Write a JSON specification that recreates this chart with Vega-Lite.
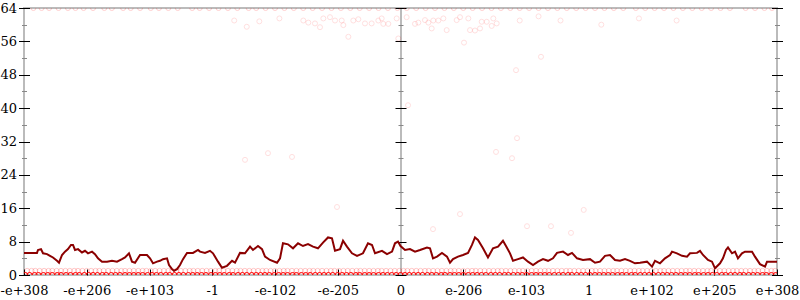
{
  "$schema": "https://vega.github.io/schema/vega-lite/v6.json",
  "autosize": "none",
  "width": 753,
  "height": 267,
  "padding": {"left": 24, "top": 8, "right": 23, "bottom": 25},
  "config": {
    "font": "DejaVu Serif",
    "view": {"stroke": "#bbb", "strokeWidth": 2},
    "axis": {"labelFont": "DejaVu Serif", "labelFontSize": 13, "labelColor": "black", "grid": false, "zindex": 1}
  },
  "datasets": {
    "avg": [
      {"x":-6.0,"y":5.3},{"x":-5.793,"y":5.3},{"x":-5.777,"y":6.0},{"x":-5.729,"y":6.2},{"x":-5.697,"y":5.2},{"x":-5.633,"y":5.0},{"x":-5.586,"y":4.6},{"x":-5.538,"y":4.2},{"x":-5.474,"y":3.4},{"x":-5.442,"y":2.95},{"x":-5.394,"y":4.8},{"x":-5.347,"y":5.6},{"x":-5.299,"y":6.2},{"x":-5.251,"y":7.2},{"x":-5.219,"y":7.2},{"x":-5.187,"y":6.0},{"x":-5.139,"y":6.2},{"x":-5.076,"y":5.4},{"x":-5.028,"y":5.8},{"x":-4.98,"y":5.2},{"x":-4.916,"y":5.6},{"x":-4.869,"y":5.0},{"x":-4.821,"y":4.0},{"x":-4.757,"y":3.2},{"x":-4.677,"y":3.2},{"x":-4.598,"y":3.4},{"x":-4.518,"y":3.2},{"x":-4.438,"y":3.8},{"x":-4.39,"y":4.2},{"x":-4.327,"y":5.2},{"x":-4.279,"y":3.2},{"x":-4.231,"y":2.95},{"x":-4.151,"y":4.8},{"x":-4.04,"y":4.8},{"x":-3.992,"y":4.0},{"x":-3.944,"y":2.8},{"x":-3.88,"y":3.2},{"x":-3.833,"y":3.4},{"x":-3.785,"y":3.8},{"x":-3.721,"y":4.0},{"x":-3.689,"y":2.4},{"x":-3.641,"y":1.4},{"x":-3.61,"y":1.0},{"x":-3.562,"y":1.4},{"x":-3.514,"y":2.4},{"x":-3.466,"y":3.8},{"x":-3.402,"y":5.3},{"x":-3.307,"y":5.3},{"x":-3.227,"y":6.0},{"x":-3.195,"y":5.6},{"x":-3.116,"y":5.3},{"x":-3.036,"y":5.8},{"x":-2.988,"y":5.2},{"x":-2.908,"y":3.2},{"x":-2.845,"y":1.75},{"x":-2.765,"y":2.2},{"x":-2.685,"y":3.4},{"x":-2.637,"y":2.95},{"x":-2.558,"y":5.3},{"x":-2.478,"y":5.2},{"x":-2.398,"y":6.8},{"x":-2.351,"y":6.0},{"x":-2.271,"y":6.95},{"x":-2.207,"y":6.2},{"x":-2.159,"y":4.4},{"x":-2.08,"y":3.6},{"x":-1.968,"y":2.95},{"x":-1.92,"y":4.0},{"x":-1.873,"y":7.6},{"x":-1.793,"y":7.35},{"x":-1.713,"y":6.4},{"x":-1.633,"y":7.6},{"x":-1.554,"y":6.95},{"x":-1.474,"y":7.4},{"x":-1.394,"y":6.8},{"x":-1.315,"y":6.4},{"x":-1.235,"y":7.75},{"x":-1.155,"y":9.0},{"x":-1.092,"y":8.8},{"x":-1.044,"y":5.8},{"x":-0.964,"y":6.2},{"x":-0.916,"y":8.2},{"x":-0.853,"y":6.8},{"x":-0.773,"y":5.2},{"x":-0.693,"y":4.6},{"x":-0.598,"y":5.2},{"x":-0.518,"y":7.6},{"x":-0.454,"y":7.2},{"x":-0.406,"y":5.2},{"x":-0.295,"y":5.8},{"x":-0.215,"y":5.0},{"x":-0.135,"y":5.6},{"x":-0.088,"y":7.6},{"x":-0.04,"y":8.0},{"x":0.0,"y":6.95},{"x":0.072,"y":6.0},{"x":0.151,"y":6.2},{"x":0.231,"y":5.6},{"x":0.311,"y":6.0},{"x":0.422,"y":6.6},{"x":0.47,"y":6.4},{"x":0.518,"y":4.0},{"x":0.582,"y":4.4},{"x":0.661,"y":5.3},{"x":0.741,"y":4.4},{"x":0.789,"y":2.95},{"x":0.837,"y":3.8},{"x":0.916,"y":4.4},{"x":0.996,"y":4.8},{"x":1.076,"y":5.3},{"x":1.139,"y":7.2},{"x":1.187,"y":9.0},{"x":1.235,"y":8.4},{"x":1.315,"y":6.4},{"x":1.394,"y":4.2},{"x":1.474,"y":6.4},{"x":1.554,"y":6.8},{"x":1.633,"y":8.2},{"x":1.681,"y":6.95},{"x":1.745,"y":5.2},{"x":1.793,"y":3.4},{"x":1.873,"y":3.8},{"x":1.952,"y":4.2},{"x":2.032,"y":3.2},{"x":2.112,"y":2.4},{"x":2.191,"y":3.2},{"x":2.271,"y":3.8},{"x":2.351,"y":3.4},{"x":2.43,"y":4.0},{"x":2.494,"y":5.3},{"x":2.59,"y":5.6},{"x":2.669,"y":4.8},{"x":2.733,"y":5.3},{"x":2.813,"y":4.0},{"x":2.908,"y":3.6},{"x":3.02,"y":3.8},{"x":3.1,"y":2.95},{"x":3.179,"y":3.2},{"x":3.259,"y":4.6},{"x":3.339,"y":4.8},{"x":3.418,"y":3.6},{"x":3.498,"y":3.4},{"x":3.578,"y":3.8},{"x":3.657,"y":3.4},{"x":3.737,"y":2.8},{"x":3.817,"y":2.95},{"x":3.928,"y":3.2},{"x":4.008,"y":2.0},{"x":4.056,"y":3.4},{"x":4.135,"y":2.8},{"x":4.215,"y":4.0},{"x":4.295,"y":4.8},{"x":4.327,"y":5.6},{"x":4.406,"y":5.2},{"x":4.486,"y":4.6},{"x":4.566,"y":4.4},{"x":4.614,"y":5.2},{"x":4.725,"y":5.3},{"x":4.773,"y":5.8},{"x":4.821,"y":4.8},{"x":4.9,"y":3.6},{"x":4.964,"y":3.2},{"x":5.012,"y":1.6},{"x":5.092,"y":2.8},{"x":5.139,"y":4.0},{"x":5.187,"y":6.0},{"x":5.219,"y":6.6},{"x":5.283,"y":5.2},{"x":5.331,"y":5.6},{"x":5.378,"y":4.0},{"x":5.442,"y":5.2},{"x":5.49,"y":5.6},{"x":5.602,"y":5.6},{"x":5.649,"y":4.4},{"x":5.729,"y":2.6},{"x":5.809,"y":2.0},{"x":5.841,"y":3.2},{"x":6.0,"y":3.2}
    ],
    "pts": [
      {"x":-5.98,"y":0,"n":40},{"x":-5.91,"y":0,"n":40},{"x":-5.83,"y":0,"n":40},{"x":-5.77,"y":0,"n":40},{"x":-5.69,"y":0,"n":40},{"x":-5.62,"y":0,"n":40},{"x":-5.55,"y":0,"n":40},{"x":-5.47,"y":0,"n":40},{"x":-5.41,"y":0,"n":40},{"x":-5.33,"y":0,"n":40},{"x":-5.26,"y":0,"n":40},{"x":-5.18,"y":0,"n":40},{"x":-5.12,"y":0,"n":40},{"x":-5.04,"y":0,"n":40},{"x":-4.97,"y":0,"n":40},{"x":-4.9,"y":0,"n":40},{"x":-4.83,"y":0,"n":40},{"x":-4.75,"y":0,"n":40},{"x":-4.69,"y":0,"n":40},{"x":-4.61,"y":0,"n":40},{"x":-4.54,"y":0,"n":40},{"x":-4.47,"y":0,"n":40},{"x":-4.39,"y":0,"n":40},{"x":-4.32,"y":0,"n":40},{"x":-4.25,"y":0,"n":40},{"x":-4.18,"y":0,"n":40},{"x":-4.11,"y":0,"n":40},{"x":-4.03,"y":0,"n":40},{"x":-3.96,"y":0,"n":40},{"x":-3.89,"y":0,"n":40},{"x":-3.82,"y":0,"n":40},{"x":-3.74,"y":0,"n":40},{"x":-3.68,"y":0,"n":40},{"x":-3.6,"y":0,"n":40},{"x":-3.53,"y":0,"n":40},{"x":-3.46,"y":0,"n":40},{"x":-3.38,"y":0,"n":40},{"x":-3.31,"y":0,"n":40},{"x":-3.24,"y":0,"n":40},{"x":-3.17,"y":0,"n":40},{"x":-3.1,"y":0,"n":40},{"x":-3.02,"y":0,"n":40},{"x":-2.95,"y":0,"n":40},{"x":-2.88,"y":0,"n":40},{"x":-2.81,"y":0,"n":40},{"x":-2.73,"y":0,"n":40},{"x":-2.67,"y":0,"n":40},{"x":-2.59,"y":0,"n":40},{"x":-2.52,"y":0,"n":40},{"x":-2.45,"y":0,"n":40},{"x":-2.37,"y":0,"n":40},{"x":-2.3,"y":0,"n":40},{"x":-2.23,"y":0,"n":40},{"x":-2.16,"y":0,"n":40},{"x":-2.09,"y":0,"n":40},{"x":-2.01,"y":0,"n":40},{"x":-1.94,"y":0,"n":40},{"x":-1.87,"y":0,"n":40},{"x":-1.8,"y":0,"n":40},{"x":-1.72,"y":0,"n":40},{"x":-1.66,"y":0,"n":40},{"x":-1.58,"y":0,"n":40},{"x":-1.51,"y":0,"n":40},{"x":-1.44,"y":0,"n":40},{"x":-1.36,"y":0,"n":40},{"x":-1.29,"y":0,"n":40},{"x":-1.22,"y":0,"n":40},{"x":-1.15,"y":0,"n":40},{"x":-1.08,"y":0,"n":40},{"x":-1.0,"y":0,"n":40},{"x":-0.93,"y":0,"n":40},{"x":-0.86,"y":0,"n":40},{"x":-0.79,"y":0,"n":40},{"x":-0.71,"y":0,"n":40},{"x":-0.65,"y":0,"n":40},{"x":-0.57,"y":0,"n":40},{"x":-0.5,"y":0,"n":40},{"x":-0.43,"y":0,"n":40},{"x":-0.35,"y":0,"n":40},{"x":-0.28,"y":0,"n":40},{"x":-0.21,"y":0,"n":40},{"x":-0.14,"y":0,"n":40},{"x":-0.07,"y":0,"n":40},{"x":0.0,"y":0,"n":40},{"x":0.07,"y":0,"n":40},{"x":0.14,"y":0,"n":40},{"x":0.21,"y":0,"n":40},{"x":0.28,"y":0,"n":40},{"x":0.35,"y":0,"n":40},{"x":0.43,"y":0,"n":40},{"x":0.5,"y":0,"n":40},{"x":0.57,"y":0,"n":40},{"x":0.65,"y":0,"n":40},{"x":0.71,"y":0,"n":40},{"x":0.79,"y":0,"n":40},{"x":0.86,"y":0,"n":40},{"x":0.93,"y":0,"n":40},{"x":1.0,"y":0,"n":40},{"x":1.08,"y":0,"n":40},{"x":1.15,"y":0,"n":40},{"x":1.22,"y":0,"n":40},{"x":1.29,"y":0,"n":40},{"x":1.36,"y":0,"n":40},{"x":1.44,"y":0,"n":40},{"x":1.51,"y":0,"n":40},{"x":1.58,"y":0,"n":40},{"x":1.66,"y":0,"n":40},{"x":1.72,"y":0,"n":40},{"x":1.8,"y":0,"n":40},{"x":1.87,"y":0,"n":40},{"x":1.94,"y":0,"n":40},{"x":2.01,"y":0,"n":40},{"x":2.09,"y":0,"n":40},{"x":2.16,"y":0,"n":40},{"x":2.23,"y":0,"n":40},{"x":2.3,"y":0,"n":40},{"x":2.37,"y":0,"n":40},{"x":2.45,"y":0,"n":40},{"x":2.52,"y":0,"n":40},{"x":2.59,"y":0,"n":40},{"x":2.67,"y":0,"n":40},{"x":2.73,"y":0,"n":40},{"x":2.81,"y":0,"n":40},{"x":2.88,"y":0,"n":40},{"x":2.95,"y":0,"n":40},{"x":3.02,"y":0,"n":40},{"x":3.1,"y":0,"n":40},{"x":3.17,"y":0,"n":40},{"x":3.24,"y":0,"n":40},{"x":3.31,"y":0,"n":40},{"x":3.38,"y":0,"n":40},{"x":3.46,"y":0,"n":40},{"x":3.53,"y":0,"n":40},{"x":3.6,"y":0,"n":40},{"x":3.68,"y":0,"n":40},{"x":3.74,"y":0,"n":40},{"x":3.82,"y":0,"n":40},{"x":3.89,"y":0,"n":40},{"x":3.96,"y":0,"n":40},{"x":4.03,"y":0,"n":40},{"x":4.11,"y":0,"n":40},{"x":4.18,"y":0,"n":40},{"x":4.25,"y":0,"n":40},{"x":4.32,"y":0,"n":40},{"x":4.39,"y":0,"n":40},{"x":4.47,"y":0,"n":40},{"x":4.54,"y":0,"n":40},{"x":4.61,"y":0,"n":40},{"x":4.69,"y":0,"n":40},{"x":4.75,"y":0,"n":40},{"x":4.83,"y":0,"n":40},{"x":4.9,"y":0,"n":40},{"x":4.97,"y":0,"n":40},{"x":5.04,"y":0,"n":40},{"x":5.12,"y":0,"n":40},{"x":5.18,"y":0,"n":40},{"x":5.26,"y":0,"n":40},{"x":5.33,"y":0,"n":40},{"x":5.41,"y":0,"n":40},{"x":5.47,"y":0,"n":40},{"x":5.55,"y":0,"n":40},{"x":5.62,"y":0,"n":40},{"x":5.69,"y":0,"n":40},{"x":5.77,"y":0,"n":40},{"x":5.83,"y":0,"n":40},{"x":5.91,"y":0,"n":40},{"x":5.98,"y":0,"n":40},
      {"x":-5.95,"y":1,"n":5},{"x":-5.88,"y":1,"n":5},{"x":-5.82,"y":1,"n":5},{"x":-5.75,"y":1,"n":5},{"x":-5.68,"y":1,"n":5},{"x":-5.61,"y":1,"n":5},{"x":-5.55,"y":1,"n":5},{"x":-5.48,"y":1,"n":5},{"x":-5.41,"y":1,"n":5},{"x":-5.34,"y":1,"n":5},{"x":-5.27,"y":1,"n":5},{"x":-5.2,"y":1,"n":5},{"x":-5.14,"y":1,"n":5},{"x":-5.07,"y":1,"n":5},{"x":-5.0,"y":1,"n":5},{"x":-4.93,"y":1,"n":5},{"x":-4.86,"y":1,"n":5},{"x":-4.8,"y":1,"n":5},{"x":-4.73,"y":1,"n":5},{"x":-4.66,"y":1,"n":5},{"x":-4.59,"y":1,"n":5},{"x":-4.52,"y":1,"n":5},{"x":-4.45,"y":1,"n":5},{"x":-4.39,"y":1,"n":5},{"x":-4.32,"y":1,"n":5},{"x":-4.25,"y":1,"n":5},{"x":-4.18,"y":1,"n":5},{"x":-4.11,"y":1,"n":5},{"x":-4.05,"y":1,"n":5},{"x":-3.98,"y":1,"n":5},{"x":-3.91,"y":1,"n":5},{"x":-3.84,"y":1,"n":5},{"x":-3.77,"y":1,"n":5},{"x":-3.7,"y":1,"n":5},{"x":-3.64,"y":1,"n":5},{"x":-3.57,"y":1,"n":5},{"x":-3.5,"y":1,"n":5},{"x":-3.43,"y":1,"n":5},{"x":-3.36,"y":1,"n":5},{"x":-3.3,"y":1,"n":5},{"x":-3.23,"y":1,"n":5},{"x":-3.16,"y":1,"n":5},{"x":-3.09,"y":1,"n":5},{"x":-3.02,"y":1,"n":5},{"x":-2.95,"y":1,"n":5},{"x":-2.89,"y":1,"n":5},{"x":-2.82,"y":1,"n":5},{"x":-2.75,"y":1,"n":5},{"x":-2.68,"y":1,"n":5},{"x":-2.61,"y":1,"n":5},{"x":-2.55,"y":1,"n":5},{"x":-2.48,"y":1,"n":5},{"x":-2.41,"y":1,"n":5},{"x":-2.34,"y":1,"n":5},{"x":-2.27,"y":1,"n":5},{"x":-2.2,"y":1,"n":5},{"x":-2.14,"y":1,"n":5},{"x":-2.07,"y":1,"n":5},{"x":-2.0,"y":1,"n":5},{"x":-1.93,"y":1,"n":5},{"x":-1.86,"y":1,"n":5},{"x":-1.8,"y":1,"n":5},{"x":-1.73,"y":1,"n":5},{"x":-1.66,"y":1,"n":5},{"x":-1.59,"y":1,"n":5},{"x":-1.52,"y":1,"n":5},{"x":-1.45,"y":1,"n":5},{"x":-1.39,"y":1,"n":5},{"x":-1.32,"y":1,"n":5},{"x":-1.25,"y":1,"n":5},{"x":-1.18,"y":1,"n":5},{"x":-1.11,"y":1,"n":5},{"x":-1.05,"y":1,"n":5},{"x":-0.98,"y":1,"n":5},{"x":-0.91,"y":1,"n":5},{"x":-0.84,"y":1,"n":5},{"x":-0.77,"y":1,"n":5},{"x":-0.7,"y":1,"n":5},{"x":-0.64,"y":1,"n":5},{"x":-0.57,"y":1,"n":5},{"x":-0.5,"y":1,"n":5},{"x":-0.43,"y":1,"n":5},{"x":-0.36,"y":1,"n":5},{"x":-0.3,"y":1,"n":5},{"x":-0.23,"y":1,"n":5},{"x":-0.16,"y":1,"n":5},{"x":-0.09,"y":1,"n":5},{"x":-0.02,"y":1,"n":5},{"x":0.05,"y":1,"n":5},{"x":0.11,"y":1,"n":5},{"x":0.18,"y":1,"n":5},{"x":0.25,"y":1,"n":5},{"x":0.32,"y":1,"n":5},{"x":0.39,"y":1,"n":5},{"x":0.45,"y":1,"n":5},{"x":0.52,"y":1,"n":5},{"x":0.59,"y":1,"n":5},{"x":0.66,"y":1,"n":5},{"x":0.73,"y":1,"n":5},{"x":0.8,"y":1,"n":5},{"x":0.86,"y":1,"n":5},{"x":0.93,"y":1,"n":5},{"x":1.0,"y":1,"n":5},{"x":1.07,"y":1,"n":5},{"x":1.14,"y":1,"n":5},{"x":1.2,"y":1,"n":5},{"x":1.27,"y":1,"n":5},{"x":1.34,"y":1,"n":5},{"x":1.41,"y":1,"n":5},{"x":1.48,"y":1,"n":5},{"x":1.55,"y":1,"n":5},{"x":1.61,"y":1,"n":5},{"x":1.68,"y":1,"n":5},{"x":1.75,"y":1,"n":5},{"x":1.82,"y":1,"n":5},{"x":1.89,"y":1,"n":5},{"x":1.95,"y":1,"n":5},{"x":2.02,"y":1,"n":5},{"x":2.09,"y":1,"n":5},{"x":2.16,"y":1,"n":5},{"x":2.23,"y":1,"n":5},{"x":2.3,"y":1,"n":5},{"x":2.36,"y":1,"n":5},{"x":2.43,"y":1,"n":5},{"x":2.5,"y":1,"n":5},{"x":2.57,"y":1,"n":5},{"x":2.64,"y":1,"n":5},{"x":2.7,"y":1,"n":5},{"x":2.77,"y":1,"n":5},{"x":2.84,"y":1,"n":5},{"x":2.91,"y":1,"n":5},{"x":2.98,"y":1,"n":5},{"x":3.05,"y":1,"n":5},{"x":3.11,"y":1,"n":5},{"x":3.18,"y":1,"n":5},{"x":3.25,"y":1,"n":5},{"x":3.32,"y":1,"n":5},{"x":3.39,"y":1,"n":5},{"x":3.45,"y":1,"n":5},{"x":3.52,"y":1,"n":5},{"x":3.59,"y":1,"n":5},{"x":3.66,"y":1,"n":5},{"x":3.73,"y":1,"n":5},{"x":3.8,"y":1,"n":5},{"x":3.86,"y":1,"n":5},{"x":3.93,"y":1,"n":5},{"x":4.0,"y":1,"n":5},{"x":4.07,"y":1,"n":5},{"x":4.14,"y":1,"n":5},{"x":4.2,"y":1,"n":5},{"x":4.27,"y":1,"n":5},{"x":4.34,"y":1,"n":5},{"x":4.41,"y":1,"n":5},{"x":4.48,"y":1,"n":5},{"x":4.55,"y":1,"n":5},{"x":4.61,"y":1,"n":5},{"x":4.68,"y":1,"n":5},{"x":4.75,"y":1,"n":5},{"x":4.82,"y":1,"n":5},{"x":4.89,"y":1,"n":5},{"x":4.95,"y":1,"n":5},{"x":5.02,"y":1,"n":5},{"x":5.09,"y":1,"n":5},{"x":5.16,"y":1,"n":5},{"x":5.23,"y":1,"n":5},{"x":5.3,"y":1,"n":5},{"x":5.36,"y":1,"n":5},{"x":5.43,"y":1,"n":5},{"x":5.5,"y":1,"n":5},{"x":5.57,"y":1,"n":5},{"x":5.64,"y":1,"n":5},{"x":5.7,"y":1,"n":5},{"x":5.77,"y":1,"n":5},{"x":5.84,"y":1,"n":5},{"x":5.91,"y":1,"n":5},{"x":5.97,"y":1,"n":5},
      {"x":-5.85,"y":64,"n":4},{"x":-5.72,"y":64,"n":4},{"x":-5.6,"y":64,"n":4},{"x":-5.45,"y":64,"n":4},{"x":-5.3,"y":64,"n":4},{"x":-5.18,"y":64,"n":4},{"x":-5.05,"y":64,"n":4},{"x":-4.9,"y":64,"n":4},{"x":-4.72,"y":64,"n":4},{"x":-4.6,"y":64,"n":4},{"x":-4.42,"y":64,"n":4},{"x":-4.3,"y":64,"n":4},{"x":-4.15,"y":64,"n":4},{"x":-3.98,"y":64,"n":4},{"x":-3.85,"y":64,"n":4},{"x":-3.7,"y":64,"n":4},{"x":-3.55,"y":64,"n":4},{"x":-3.32,"y":64,"n":4},{"x":-3.2,"y":64,"n":4},{"x":-3.05,"y":64,"n":4},{"x":-2.9,"y":64,"n":4},{"x":-2.75,"y":64,"n":4},{"x":-2.6,"y":64,"n":4},{"x":-2.42,"y":64,"n":4},{"x":-2.3,"y":64,"n":4},{"x":-2.15,"y":64,"n":4},{"x":-2.0,"y":64,"n":4},{"x":-1.85,"y":64,"n":4},{"x":-1.7,"y":64,"n":4},{"x":-1.55,"y":64,"n":4},{"x":-1.4,"y":64,"n":4},{"x":-1.25,"y":64,"n":4},{"x":-1.1,"y":64,"n":4},{"x":-0.95,"y":64,"n":4},{"x":-0.8,"y":64,"n":4},{"x":-0.65,"y":64,"n":4},{"x":-0.5,"y":64,"n":4},{"x":-0.35,"y":64,"n":4},{"x":-0.2,"y":64,"n":4},{"x":-0.05,"y":64,"n":4},{"x":0.1,"y":64,"n":4},{"x":0.25,"y":64,"n":4},{"x":0.4,"y":64,"n":4},{"x":0.55,"y":64,"n":4},{"x":0.7,"y":64,"n":4},{"x":0.85,"y":64,"n":4},{"x":1.0,"y":64,"n":4},{"x":1.15,"y":64,"n":4},{"x":1.3,"y":64,"n":4},{"x":1.45,"y":64,"n":4},{"x":1.6,"y":64,"n":4},{"x":1.75,"y":64,"n":4},{"x":1.9,"y":64,"n":4},{"x":2.05,"y":64,"n":4},{"x":2.2,"y":64,"n":4},{"x":2.35,"y":64,"n":4},{"x":2.5,"y":64,"n":4},{"x":2.65,"y":64,"n":4},{"x":2.8,"y":64,"n":4},{"x":2.95,"y":64,"n":4},{"x":3.1,"y":64,"n":4},{"x":3.25,"y":64,"n":4},{"x":3.4,"y":64,"n":4},{"x":3.55,"y":64,"n":4},{"x":3.75,"y":64,"n":4},{"x":3.9,"y":64,"n":4},{"x":4.05,"y":64,"n":4},{"x":4.2,"y":64,"n":4},{"x":4.35,"y":64,"n":4},{"x":4.5,"y":64,"n":4},{"x":4.65,"y":64,"n":4},{"x":4.8,"y":64,"n":4},{"x":4.95,"y":64,"n":4},{"x":5.1,"y":64,"n":4},{"x":5.25,"y":64,"n":4},{"x":5.5,"y":64,"n":4},{"x":5.65,"y":64,"n":4},{"x":5.8,"y":64,"n":4},{"x":5.92,"y":64,"n":4},
      {"x":-2.65,"y":61,"n":1},{"x":-2.45,"y":59.5,"n":1},{"x":-2.25,"y":60.8,"n":1},{"x":-1.93,"y":61.5,"n":1},{"x":-1.549,"y":61.0,"n":1},{"x":-1.469,"y":60.5,"n":1},{"x":-1.363,"y":60.3,"n":1},{"x":-1.283,"y":59.4,"n":1},{"x":-1.23,"y":61.5,"n":1},{"x":-1.124,"y":61.8,"n":1},{"x":-1.044,"y":61.0,"n":1},{"x":-0.937,"y":61.0,"n":1},{"x":-0.911,"y":59.9,"n":1},{"x":-0.831,"y":57.1,"n":1},{"x":-0.752,"y":61.0,"n":1},{"x":-0.672,"y":61.3,"n":1},{"x":-0.566,"y":60.3,"n":1},{"x":-0.46,"y":60.3,"n":1},{"x":-0.353,"y":61.0,"n":1},{"x":-0.3,"y":61.5,"n":1},{"x":-0.274,"y":60.2,"n":1},{"x":-0.194,"y":60.2,"n":1},{"x":-0.061,"y":61.5,"n":1},{"x":-0.035,"y":56.7,"n":1},{"x":0.098,"y":61.8,"n":1},{"x":0.231,"y":60.2,"n":1},{"x":0.284,"y":60.5,"n":1},{"x":0.39,"y":61.1,"n":1},{"x":0.444,"y":60.5,"n":1},{"x":0.497,"y":59.1,"n":1},{"x":0.523,"y":61.0,"n":1},{"x":0.603,"y":61.0,"n":1},{"x":0.683,"y":61.5,"n":1},{"x":0.736,"y":58.7,"n":1},{"x":0.895,"y":61.1,"n":1},{"x":0.948,"y":61.8,"n":1},{"x":1.012,"y":55.7,"n":1},{"x":1.081,"y":61.5,"n":1},{"x":1.108,"y":58.7,"n":1},{"x":1.187,"y":58.6,"n":1},{"x":1.267,"y":59.1,"n":1},{"x":1.294,"y":60.7,"n":1},{"x":1.374,"y":60.7,"n":1},{"x":1.453,"y":59.7,"n":1},{"x":1.479,"y":61.5,"n":1},{"x":1.533,"y":60.3,"n":1},{"x":1.9,"y":61,"n":1},{"x":2.2,"y":62,"n":1},{"x":2.55,"y":61,"n":1},{"x":3.2,"y":60,"n":1},{"x":3.8,"y":61.5,"n":1},{"x":4.4,"y":61,"n":1},
      {"x":-2.478,"y":27.6,"n":1},{"x":-2.112,"y":29.2,"n":1},{"x":-1.729,"y":28.3,"n":1},{"x":-1.012,"y":16.3,"n":1},{"x":0.12,"y":40.7,"n":1},{"x":0.518,"y":11.0,"n":1},{"x":0.948,"y":14.6,"n":1},{"x":1.522,"y":29.5,"n":1},{"x":1.777,"y":28.0,"n":1},{"x":1.857,"y":32.8,"n":1},{"x":1.841,"y":49.1,"n":1},{"x":2.016,"y":11.7,"n":1},{"x":2.239,"y":52.3,"n":1},{"x":2.398,"y":11.7,"n":1},{"x":2.717,"y":10.1,"n":1},{"x":2.92,"y":15.6,"n":1}
    ]
  },
  "resolve": {"axis": {"y": "independent"}},
  "encoding": {
    "x": {"field": "x", "type": "quantitative", "scale": {"domain": [-6, 6], "nice": false, "zero": false},
      "axis": {"title": null, "values": [-6,-5,-4,-3,-2,-1,0,1,2,3,4,5,6], "domain": false, "tickColor": "black", "tickSize": -6, "labelPadding": 15, "labelOverlap": false, "labelFlush": false,
        "labelExpr": "['-e+308','-e+206','-e+103','-1','-e-102','-e-205','0','e-206','e-103','1','e+102','e+205','e+308'][datum.value + 6]"}}
  },
  "layer": [
    {
      "data": {"name": "avg"},
      "mark": {"type": "point", "opacity": 0},
      "encoding": {
        "y": {"field": "y", "type": "quantitative", "scale": {"domain": [0, 64], "nice": false, "zero": false},
          "axis": {"title": null, "orient": "left", "values": [0, 64], "domain": true, "domainColor": "#bbb", "domainWidth": 2, "ticks": false, "labels": false, "offset": -376.5}}
      }
    },
    {
      "data": {"name": "pts"},
      "mark": {"type": "point", "shape": "circle", "filled": false, "color": "red", "size": 25, "strokeWidth": 1, "clip": true},
      "encoding": {
        "y": {"field": "y", "type": "quantitative", "scale": {"domain": [0, 64], "nice": false, "zero": false},
          "axis": {"title": null, "orient": "left", "values": [0,8,16,24,32,40,48,56,64], "domain": false, "tickColor": "black", "tickSize": 11, "offset": -5.5, "labelPadding": 2}},
        "opacity": {"field": "n", "type": "quantitative", "scale": {"domain": [1, 40], "range": [0.12, 1]}, "legend": null}
      }
    },
    {
      "data": {"name": "avg"},
      "mark": {"type": "line", "color": "#8b0000", "strokeWidth": 2},
      "encoding": {
        "y": {"field": "y", "type": "quantitative", "scale": {"domain": [0, 64], "nice": false, "zero": false},
          "axis": {"title": null, "orient": "right", "values": [0,8,16,24,32,40,48,56,64], "domain": false, "labels": false, "tickColor": "black", "tickSize": 11, "offset": -5.5}}
      }
    },
    {
      "data": {"name": "avg"},
      "mark": {"type": "point", "opacity": 0},
      "encoding": {
        "y": {"field": "y", "type": "quantitative", "scale": {"domain": [0, 64], "nice": false, "zero": false},
          "axis": {"title": null, "orient": "left", "values": [4,12,20,28,36,44,52,60], "domain": false, "labels": false, "tickColor": "#888", "tickSize": 5, "offset": -2.5}}
      }
    },
    {
      "data": {"name": "avg"},
      "mark": {"type": "point", "opacity": 0},
      "encoding": {
        "y": {"field": "y", "type": "quantitative", "scale": {"domain": [0, 64], "nice": false, "zero": false},
          "axis": {"title": null, "orient": "right", "values": [4,12,20,28,36,44,52,60], "domain": false, "labels": false, "tickColor": "#888", "tickSize": 5, "offset": -2.5}}
      }
    },
    {
      "data": {"name": "avg"},
      "mark": {"type": "point", "opacity": 0},
      "encoding": {
        "y": {"field": "y", "type": "quantitative", "scale": {"domain": [0, 64], "nice": false, "zero": false},
          "axis": {"title": null, "orient": "left", "values": [0,8,16,24,32,40,48,56,64], "domain": false, "labels": false, "tickColor": "black", "tickSize": 11, "offset": -382}}
      }
    },
    {
      "data": {"name": "avg"},
      "mark": {"type": "point", "opacity": 0},
      "encoding": {
        "y": {"field": "y", "type": "quantitative", "scale": {"domain": [0, 64], "nice": false, "zero": false},
          "axis": {"title": null, "orient": "left", "values": [4,12,20,28,36,44,52,60], "domain": false, "labels": false, "tickColor": "#888", "tickSize": 5, "offset": -379}}
      }
    }
  ]
}
